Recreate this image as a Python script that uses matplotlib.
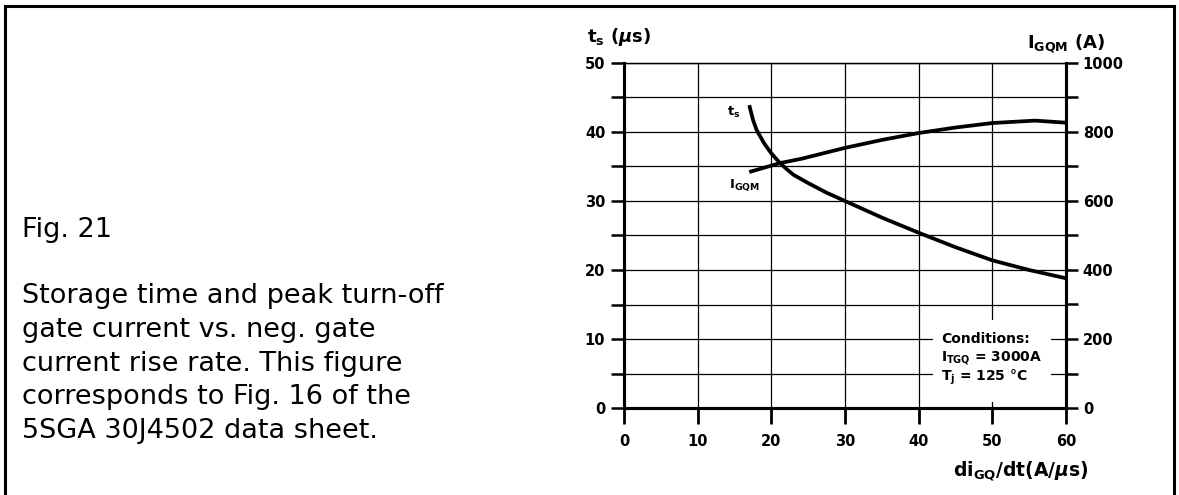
import numpy as np
import matplotlib.pyplot as plt
from matplotlib.lines import Line2D
from matplotlib.patches import Rectangle
from matplotlib.ticker import MultipleLocator

plt.rcParams['font.family'] = ['DejaVu Sans']
plt.rcParams['mathtext.fontset'] = 'custom'
plt.rcParams['mathtext.rm'] = 'DejaVu Sans:bold'
plt.rcParams['mathtext.it'] = 'DejaVu Sans:italic:bold'
plt.rcParams['mathtext.bf'] = 'DejaVu Sans:bold'

# storage time t_s (us) vs di_GQ/dt (A/us)
ts_x = [17, 17.5, 18, 19, 20, 21, 22, 23, 25, 27.5, 30, 35, 40, 45, 50, 55, 60]
ts_y = [43.9, 41.8, 40.3, 38.4, 36.9, 35.7, 34.7, 33.8, 32.6, 31.2, 30.0, 27.6, 25.4, 23.3, 21.4, 20.0, 18.8]

# peak turn-off gate current I_GQM (A)
igqm_x = [17, 21.2, 24, 30, 35, 40, 45, 50, 55.8, 60]
igqm_y = [684, 710, 722, 754, 777, 797, 813, 826, 833, 827]

x_ticks = [0, 10, 20, 30, 40, 50, 60]
ts_ticks = [0, 10, 20, 30, 40, 50]
i_ticks = [0, 200, 400, 600, 800, 1000]

caption = ["Storage time and peak turn-off",
           "gate current vs. neg. gate",
           "current rise rate. This figure",
           "corresponds to Fig. 16 of the",
           "5SGA 30J4502 data sheet."]

W, H = 1179, 495
fig = plt.figure(figsize=(W / 100, H / 100), dpi=100)


def fx(px):
    return px / W


def fy(py):
    return 1 - py / H


# frame around the whole figure
for xs, ys in [((5, 5), (6, H + 5)), ((5, 1174), (6, 6)), ((1174, 1174), (6, H + 5))]:
    fig.add_artist(Line2D([fx(v) for v in xs], [fy(v) for v in ys], color='black', lw=2.2))

# caption on the left
fig.text(fx(22), fy(237), "Fig. 21", fontsize=19.5, va='baseline')
for i, line in enumerate(caption):
    fig.text(fx(22), fy(303 + i * 33.8), line, fontsize=19.5, va='baseline')

x0, x1, y0, y1 = 624, 1066, 408, 63
ax = fig.add_axes([fx(x0), fy(y0), (x1 - x0) / W, (y0 - y1) / H])
ax.set_xlim(0, 60)
ax.set_ylim(0, 50)
ax2 = ax.twinx()
ax2.set_ylim(0, 1000)

ax.set_axisbelow(True)
ax.yaxis.set_minor_locator(MultipleLocator(5))
ax.grid(True, which='both', color='black', lw=0.9)
ax.set_xticks(x_ticks)
ax.set_yticks(ts_ticks)
ax2.set_yticks(i_ticks)
ax2.yaxis.set_minor_locator(MultipleLocator(100))

for a in (ax, ax2):
    for side in ('left', 'right', 'bottom'):
        a.spines[side].set_linewidth(2.2)
    a.spines['top'].set_linewidth(0.9)

ax.tick_params(axis='y', which='both', direction='out', length=9.5, width=1.8, pad=4, labelsize=10.5)
ax.tick_params(axis='x', which='major', direction='out', length=11.5, width=2.0, pad=7, labelsize=10.5)
ax2.tick_params(axis='y', which='both', direction='out', length=8.6, width=1.8, pad=3.5, labelsize=10.5)
for lab in ax.get_xticklabels() + ax.get_yticklabels() + ax2.get_yticklabels():
    lab.set_fontweight('bold')

ax.plot(ts_x, ts_y, color='black', lw=2.7, solid_capstyle='butt')
ax2.plot(igqm_x, igqm_y, color='black', lw=2.7, solid_capstyle='butt')

ax.text(14.0, 42.8, r'$\mathrm{t_s}$', fontsize=9.5, va='center')
ax.text(14.3, 32.3, r'$\mathrm{I_{GQM}}$', fontsize=9.5, va='center')

# conditions block
ax.add_patch(Rectangle((42.0, 0.9), 16.0, 11.8, facecolor='white', edgecolor='none', zorder=1.5))
cond = ["Conditions:", r'I$_\mathrm{TGQ}$ = 3000A', r'T$_\mathrm{j}$ = 125 °C']
for i, line in enumerate(cond):
    ax.text(43.0, 10.0 - i * 2.8, line, fontsize=10, fontweight='bold', va='center', zorder=3)

# axis titles
fig.text(fx(587), fy(42), r'$\mathrm{t_s}$ ($\mu$s)', fontsize=13, fontweight='bold', va='baseline')
fig.text(fx(1027), fy(48), r'$\mathrm{I_{GQM}}$ (A)', fontsize=13, fontweight='bold', va='baseline')
fig.text(fx(1089), fy(471), r'$\mathrm{di_{GQ}}$/dt(A/$\mu$s)', fontsize=13.5, fontweight='bold',
         ha='right', va='center')

fig.savefig('out.png', dpi=100)
